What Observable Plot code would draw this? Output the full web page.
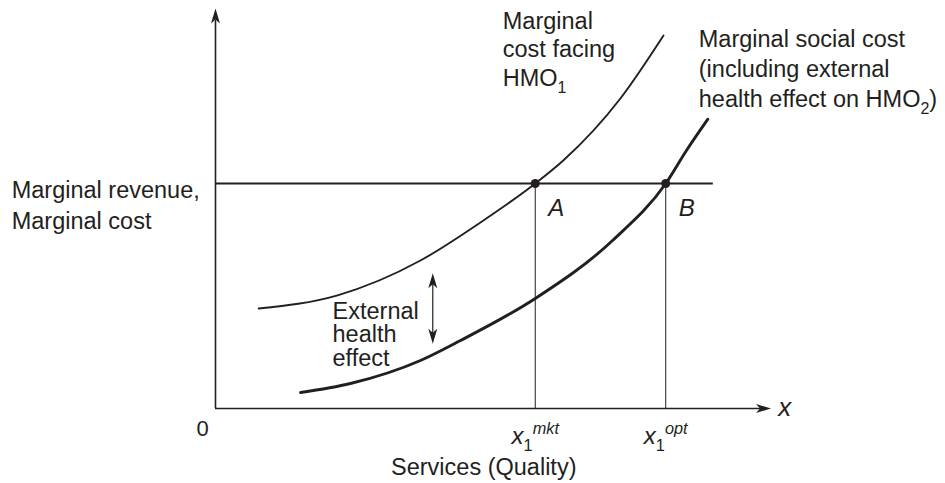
<!DOCTYPE html>
<html><head><meta charset="utf-8">
<script src="https://cdn.jsdelivr.net/npm/d3@7"></script>
<script src="https://cdn.jsdelivr.net/npm/@observablehq/plot@0.6"></script>
<style>body{margin:0;background:#fff;}</style>
</head><body><div id="chart"></div>
<script>
// Marginal cost facing HMO1 (abstract units 0-100)
const mcX = [7.7, 21.8, 36.6, 47.3, 57.1, 62.1, 72.3, 80.0];
const mcY = [25, 28.3, 37, 46.5, 56.25, 62, 77.5, 93.25];
// Marginal social cost (including external effect)
const mscX = [15.2, 24.1, 36.6, 43.75, 57.1, 70.9, 80.4, 84.1, 87.9];
const mscY = [4, 6.25, 12, 17, 27.5, 42, 56.25, 64.5, 72.3];
// Marginal revenue level
const mrLevel = 56.25;
const mrEnd = 88.9;
// Equilibria
const eqNames = ["A", "B"];
const eqX = [57.1, 80.4];
const tickLabels = ["x_{1}^{mkt}", "x_{1}^{opt}"];
// External health effect gap
const gapX = 38.8;
const gapLow = 16.2;
const gapHigh = 33.8;

const ink = "#231f20";
const font = "'Liberation Sans', Arial, Helvetica, sans-serif";
const fs = 23.5;

const mc = mcX.map((x, i) => ({x, y: mcY[i]}));
const msc = mscX.map((x, i) => ({x, y: mscY[i]}));
const eq = eqNames.map((n, i) => ({name: n, x: eqX[i], y: mrLevel, tick: tickLabels[i]}));

// dart-shaped arrowheads, tip at origin
const dart = (dir) => ({
  draw(ctx) {
    const L = 15, W = 4.5, N = 11;
    const pts = [[0, 0], [W, L], [0, N], [-W, L]];
    const rot = {up: ([a, b]) => [a, b], down: ([a, b]) => [a, -b], right: ([a, b]) => [-b, a]}[dir];
    const p = pts.map(rot);
    ctx.moveTo(p[0][0], p[0][1]);
    for (let i = 1; i < p.length; i++) ctx.lineTo(p[i][0], p[i][1]);
    ctx.closePath();
  }
});

const plot = Plot.plot({
  width: 945, height: 483,
  marginLeft: 215, marginRight: 170, marginTop: 8, marginBottom: 75,
  x: {domain: [0, 100], axis: null},
  y: {domain: [0, 100], axis: null},
  style: {fontFamily: font, color: ink, background: "#fff", overflow: "visible"},
  marks: [
    // axes
    Plot.ruleX([0], {y1: 0, y2: 97, stroke: ink, strokeWidth: 1.6}),
    Plot.ruleY([0], {x1: 0, x2: 97.5, stroke: ink, strokeWidth: 1.5}),
    Plot.dot([{x: 0, y: 100}], {x: "x", y: "y", symbol: dart("up"), fill: ink, stroke: "none"}),
    Plot.dot([{x: 99.2, y: 0}], {x: "x", y: "y", symbol: dart("right"), fill: ink, stroke: "none"}),
    // vertical drop lines
    Plot.ruleX(eq, {x: "x", y1: 0, y2: "y", stroke: ink, strokeWidth: 1}),
    // marginal revenue
    Plot.ruleY([mrLevel], {x1: 0, x2: mrEnd, stroke: ink, strokeWidth: 2.2}),
    // curves
    Plot.line(mc, {x: "x", y: "y", curve: "monotone-x", stroke: ink, strokeWidth: 1.9}),
    Plot.line(msc, {x: "x", y: "y", curve: "monotone-x", stroke: ink, strokeWidth: 2.9}),
    // equilibrium points
    Plot.dot(eq, {x: "x", y: "y", r: 4.5, fill: ink, stroke: "none"}),
    // external effect arrow
    Plot.ruleX([gapX], {y1: gapLow + 2, y2: gapHigh - 2, stroke: ink, strokeWidth: 1.2}),
    Plot.dot([{x: gapX, y: gapHigh}], {x: "x", y: "y", symbol: dart("up"), fill: ink, stroke: "none"}),
    Plot.dot([{x: gapX, y: gapLow}], {x: "x", y: "y", symbol: dart("down"), fill: ink, stroke: "none"}),
    // texts
    Plot.text(["Marginal revenue,\nMarginal cost"], {x: -36.4, y: 45, textAnchor: "start", lineAnchor: "bottom", lineHeight: 1.28, fontSize: fs, fill: ink}),
    Plot.text(["Marginal\ncost facing\nHMO_{1}"], {x: 51.3, y: 80.75, textAnchor: "start", lineAnchor: "bottom", lineHeight: 1.21, fontSize: fs, fill: ink}),
    Plot.text(["Marginal social cost\n(including external\nhealth effect on HMO_{2})"], {x: 86.3, y: 75.5, textAnchor: "start", lineAnchor: "bottom", lineHeight: 1.26, fontSize: fs, fill: ink}),
    Plot.text(["External\nhealth\neffect"], {x: 20.9, y: 10.75, textAnchor: "start", lineAnchor: "bottom", lineHeight: 1.0, fontSize: fs, fill: ink}),
    Plot.text(eq, {x: "x", y: "y", text: "name", dx: 13, dy: 32, textAnchor: "start", lineAnchor: "bottom", fontSize: 24, fontStyle: "italic", fill: ink}),
    Plot.text(eq, {x: "x", y: 0, text: "tick", dy: 35, textAnchor: "middle", lineAnchor: "bottom", fontSize: 24, fontStyle: "italic", fill: ink}),
    Plot.text(["0"], {x: -2.3, y: -6.75, textAnchor: "middle", lineAnchor: "bottom", fontSize: 22, fill: ink}),
    Plot.text(["x"], {x: 100.5, y: -1.75, textAnchor: "start", lineAnchor: "bottom", fontSize: 26, fontStyle: "italic", fill: ink}),
    Plot.text(["Services (Quality)"], {x: 47.9, y: -16.5, textAnchor: "middle", lineAnchor: "bottom", fontSize: fs, fill: ink})
  ]
});

// rich text: _{..} subscript (upright), ^{..} superscript
function richify(el) {
  const t = el.textContent;
  if (!/[_^]\{/.test(t)) return;
  const parts = t.split(/(_\{[^}]*\}|\^\{[^}]*\})/).filter(s => s !== "");
  el.textContent = "";
  let shift = 0;
  const ns = "http://www.w3.org/2000/svg";
  for (const p of parts) {
    const ts = document.createElementNS(ns, "tspan");
    let target = 0, content = p;
    if (p.startsWith("_{")) {
      target = 7; content = p.slice(2, -1);
      ts.setAttribute("font-size", "0.68em");
      ts.setAttribute("font-style", "normal");
    } else if (p.startsWith("^{")) {
      target = -10; content = p.slice(2, -1);
      ts.setAttribute("font-size", "0.68em");
    }
    if (target - shift !== 0) ts.setAttribute("dy", target - shift);
    shift = target;
    ts.textContent = content;
    el.appendChild(ts);
  }
}
d3.select(plot).selectAll("text, tspan").each(function () {
  if (this.children.length === 0) richify(this);
});

document.getElementById("chart").appendChild(plot);
</script>
</body></html>
